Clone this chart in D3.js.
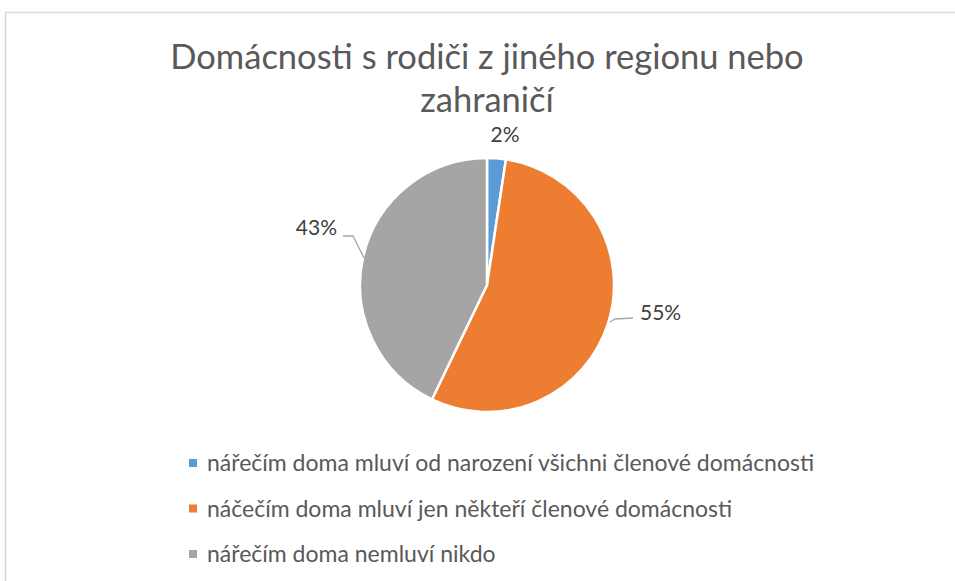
<!DOCTYPE html>
<html>
<head>
<meta charset="utf-8">
<script src="https://cdn.jsdelivr.net/npm/d3@7"></script>
<style>
  body { margin: 0; background: #fff; }
  text { font-family: Lato, "Open Sans", sans-serif; }
</style>
</head>
<body>
<script>
// data
var categories = [
  "nářečím doma mluví od narození všichni členové domácnosti",
  "náčečím doma mluví jen někteří členové domácnosti",
  "nářečím doma nemluví nikdo"
];
var counts = [1, 23, 18];
var colors = ["#5b9bd5", "#ed7d31", "#a5a5a5"];
var title_lines = ["Domácnosti s rodiči z jiného regionu nebo", "zahraničí"];

var width = 955, height = 581;
var cx = 487, cy = 285, radius = 127;

var svg = d3.select("body").append("svg")
    .attr("width", width)
    .attr("height", height);

// chart border
svg.append("rect")
    .attr("x", 5.5).attr("y", 12.5)
    .attr("width", 970).attr("height", 600)
    .attr("fill", "none")
    .attr("stroke", "#d9d9d9")
    .attr("stroke-width", 1.5);

svg.selectAll("text.title")
    .data(title_lines)
  .enter().append("text")
    .attr("class", "title")
    .attr("x", cx)
    .attr("y", function(d, i){ return 69 + i * 43; })
    .attr("text-anchor", "middle")
    .attr("font-size", 34.5)
    .attr("fill", "#595959")
    .text(function(d){ return d; });

var total = d3.sum(counts);
var pie = d3.pie().sort(null).value(function(d){ return d; });
var arcs = pie(counts);
var arc = d3.arc().innerRadius(0).outerRadius(radius);

var g = svg.append("g").attr("transform", "translate(" + cx + "," + cy + ")");

g.selectAll("path")
    .data(arcs)
  .enter().append("path")
    .attr("d", arc)
    .attr("fill", function(d, i){ return colors[i]; })
    .attr("stroke", "#fff")
    .attr("stroke-width", 2.5)
    .attr("stroke-linejoin", "round");

// labels (offsets relative to the pie centre)
var label_pos = [[18, -150], [153, 28], [-150, -57]];
var label_anchor = ["middle", "start", "end"];

g.selectAll("text.pct")
    .data(arcs)
  .enter().append("text")
    .attr("class", "pct")
    .attr("x", function(d, i){ return label_pos[i][0]; })
    .attr("y", function(d, i){ return label_pos[i][1]; })
    .attr("dy", "0.35em")
    .attr("text-anchor", function(d, i){ return label_anchor[i]; })
    .attr("font-size", 21)
    .attr("fill", "#404040")
    .text(function(d){ return Math.round(d.value / total * 100) + "%"; });

// leader lines for the outside labels
var leaders = [null,
    [[123, 37], [128, 34], [146, 33]],
    [[-123, -27], [-134, -49], [-144, -49]]];
g.selectAll("polyline")
    .data(arcs.filter(function(d, i){ return leaders[i]; }))
  .enter().append("polyline")
    .attr("points", function(d){ return leaders[d.index].join(" "); })
    .attr("fill", "none")
    .attr("stroke", "#a6a6a6")
    .attr("stroke-width", 1.3);

// legend
var legend = svg.selectAll("g.legend")
    .data(categories)
  .enter().append("g")
    .attr("class", "legend")
    .attr("transform", function(d, i){ return "translate(189," + (463 + i * 45.5) + ")"; });

legend.append("rect")
    .attr("x", 0).attr("y", -4)
    .attr("width", 8).attr("height", 8)
    .attr("fill", function(d, i){ return colors[i]; });

legend.append("text")
    .attr("x", 18)
    .attr("y", 0)
    .attr("dy", "0.35em")
    .attr("font-size", 23)
    .attr("fill", "#595959")
    .text(function(d){ return d; });
</script>
</body>
</html>
